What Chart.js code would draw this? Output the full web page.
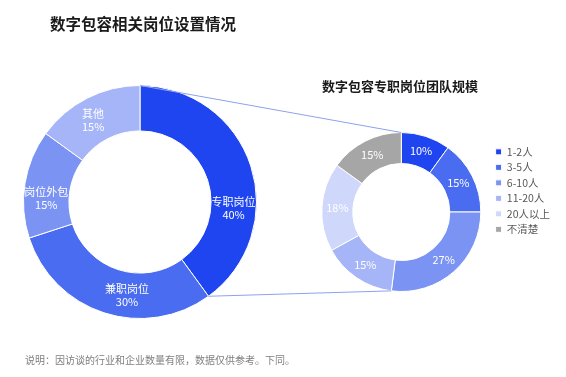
<!DOCTYPE html>
<html>
<head>
<meta charset="utf-8">
<script src="https://cdn.jsdelivr.net/npm/chart.js@4.4.1/dist/chart.umd.min.js"></script>
<style>
  body { margin: 0; background: #fff; font-family: "Noto Sans CJK SC", "Noto Sans", sans-serif; }
  #wrap { position: relative; width: 566px; height: 377px; overflow: hidden; }
  canvas { position: absolute; left: 0; top: 0; }
  .txt { position: absolute; white-space: nowrap; }
  #title { left: 50px; top: 12px; font-size: 15.5px; font-weight: bold; color: #1a1a1a; }
  #subtitle { left: 322px; top: 76px; font-size: 13px; font-weight: bold; color: #1a1a1a; }
  #note { left: 25px; top: 352px; font-size: 10px; color: #7f7f7f; }
</style>
</head>
<body>
<div id="wrap">
  <canvas id="leftChart" width="566" height="377"></canvas>
  <canvas id="rightChart" width="566" height="377"></canvas>
  <div class="txt" id="title">数字包容相关岗位设置情况</div>
  <div class="txt" id="subtitle">数字包容专职岗位团队规模</div>
  <div class="txt" id="note">说明：因访谈的行业和企业数量有限，数据仅供参考。下同。</div>
</div>
<script>
// 左图：岗位设置
const postLabels = ['专职岗位', '兼职岗位', '岗位外包', '其他'];
const postValues = [40, 30, 15, 15];
const postColors = ['#1f45f0', '#4a6cf1', '#7b94f4', '#a5b5f7'];

// 右图：专职岗位团队规模
const sizeLabels = ['1-2人', '3-5人', '6-10人', '11-20人', '20人以上', '不清楚'];
const sizeValues = [10, 15, 27, 15, 18, 15];
const sizeColors = ['#1f45f0', '#4a6cf1', '#7b94f4', '#a5b5f7', '#cfd8fb', '#a6a6a6'];

const cjk = '"Noto Sans CJK SC", "Noto Sans", sans-serif';

// 在扇区上写标签
const sliceLabels = {
  id: 'sliceLabels',
  afterDatasetsDraw(chart, args, opts) {
    const ctx = chart.ctx;
    const meta = chart.getDatasetMeta(0);
    const data = chart.data.datasets[0].data;
    ctx.save();
    ctx.fillStyle = '#fff';
    ctx.font = opts.size + 'px ' + cjk;
    ctx.textAlign = 'center';
    ctx.textBaseline = 'middle';
    meta.data.forEach((arc, i) => {
      const p = arc.getProps(['x', 'y', 'startAngle', 'endAngle', 'innerRadius', 'outerRadius'], true);
      const shift = (opts.shift ? opts.shift[i] : 0) * Math.PI / 180;
      const a = (p.startAngle + p.endAngle) / 2 + shift;
      const r = (p.innerRadius + p.outerRadius) / 2;
      const cx = p.x + r * Math.cos(a);
      const cy = p.y + r * Math.sin(a);
      const lines = opts.withName ? [chart.data.labels[i], data[i] + '%'] : [data[i] + '%'];
      const h = opts.lineHeight;
      lines.forEach((t, k) => {
        ctx.fillText(t, cx, cy + (k - (lines.length - 1) / 2) * h);
      });
    });
    ctx.restore();
  }
};

const leftChart = new Chart(document.getElementById('leftChart').getContext('2d'), {
  type: 'doughnut',
  data: {
    labels: postLabels,
    datasets: [{
      data: postValues,
      backgroundColor: postColors,
      borderColor: '#fff',
      borderWidth: 1
    }]
  },
  options: {
    responsive: false,
    animation: false,
    cutout: '61%',
    layout: { padding: { left: 23, right: 309, top: 85, bottom: 58 } },
    plugins: {
      legend: { display: false },
      tooltip: { enabled: false },
      sliceLabels: { size: 11, lineHeight: 13, withName: true, shift: [22, -10, -7, -3] }
    }
  },
  plugins: [sliceLabels]
});

// 两图之间的连接线
const connector = {
  id: 'connector',
  afterDraw(chart) {
    const la = leftChart.getDatasetMeta(0).data[0].getProps(['x', 'y', 'startAngle', 'endAngle', 'outerRadius'], true);
    const rm = chart.getDatasetMeta(0).data;
    const r0 = rm[0].getProps(['x', 'y', 'startAngle', 'outerRadius'], true);
    const r2 = rm[2].getProps(['x', 'y', 'endAngle', 'outerRadius'], true);
    const pt = (p, ang) => [p.x + p.outerRadius * Math.cos(ang), p.y + p.outerRadius * Math.sin(ang)];
    const a1 = pt(la, la.startAngle), b1 = pt(r0, r0.startAngle);
    const a2 = pt(la, la.endAngle), b2 = pt(r2, r2.endAngle);
    const ctx = chart.ctx;
    ctx.save();
    ctx.strokeStyle = '#8da1ee';
    ctx.lineWidth = 1;
    ctx.beginPath();
    ctx.moveTo(a1[0], a1[1]); ctx.lineTo(b1[0], b1[1]);
    ctx.moveTo(a2[0], a2[1]); ctx.lineTo(b2[0], b2[1]);
    ctx.stroke();
    ctx.restore();
  }
};

const rightChart = new Chart(document.getElementById('rightChart').getContext('2d'), {
  type: 'doughnut',
  data: {
    labels: sizeLabels,
    datasets: [{
      data: sizeValues,
      backgroundColor: sizeColors,
      borderColor: '#fff',
      borderWidth: 1
    }]
  },
  options: {
    responsive: false,
    animation: false,
    cutout: '61%',
    layout: { padding: { left: 312, right: 6, top: 132, bottom: 85 } },
    plugins: {
      legend: {
        position: 'right',
        align: 'start',
        title: { display: true, text: ' ', font: { size: 8 }, padding: 0 },
        labels: {
          boxWidth: 6,
          boxHeight: 6,
          padding: 5,
          color: '#595959',
          font: { size: 10.5, family: cjk }
        }
      },
      tooltip: { enabled: false },
      sliceLabels: { size: 11, lineHeight: 13, withName: false }
    }
  },
  plugins: [sliceLabels, connector]
});
</script>
</body>
</html>
